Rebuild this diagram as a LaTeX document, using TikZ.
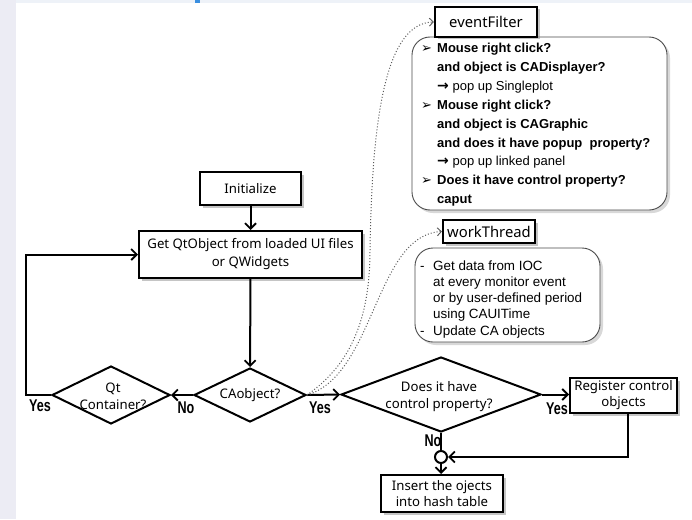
\documentclass[tikz,border=0pt]{standalone}
\usepackage{fontspec}
\setmainfont{Noto Sans}
\newfontfamily\panelfont{Liberation Sans}
\newfontfamily\labfont[FakeStretch=0.74]{Liberation Sans}
\newfontfamily\symfont{DejaVu Sans}
\usetikzlibrary{shapes.geometric,arrows.meta,shadows}

\definecolor{sidebar}{HTML}{ECECF4}
\definecolor{topbar}{HTML}{EEF2F8}
\definecolor{cursorblue}{HTML}{3A8FE0}

\newcommand\efbullet{\makebox[16pt][l]{\symfont\fontsize{13}{18.9}\selectfont ➢}}
\newcommand\efindent{\hspace*{16pt}}
\newcommand\efarrow{{\symfont\bfseries\fontsize{14}{18.9}\selectfont →}\ }
\newcommand\wtdash{\makebox[13pt][l]{-}}
\newcommand\wtindent{\hspace*{13pt}}

\tikzset{
  flowbox/.style={draw, line width=2pt, fill=white, inner sep=0pt,
    align=center, font=\fontsize{13.2}{17}\selectfont,
    drop shadow={shadow xshift=2.5pt, shadow yshift=-2.5pt, fill=black!45}},
  titlebox/.style={flowbox, line width=2.2pt, font=\fontsize{14.8}{17}\selectfont},
  decision/.style={diamond, draw, line width=2pt, fill=white, inner sep=0pt},
  dtext/.style={align=center, inner sep=0pt, font=\fontsize{13.2}{17}\selectfont},
  panel/.style={draw=black!70, line width=0.9pt, fill=white, rounded corners=18pt,
    inner sep=0pt, drop shadow={shadow xshift=3pt, shadow yshift=-3pt, fill=black!30}},
  flow/.style={line width=2pt, -{Straight Barb[length=5.5pt,width=11pt,line width=1.8pt]}},
  plain/.style={line width=2pt},
  hint/.style={dotted, line width=1pt, black!65,
    -{Straight Barb[length=4pt,width=8pt,line width=0.9pt]}},
  yesno/.style={font=\labfont\bfseries\fontsize{17}{17}\selectfont, inner sep=0pt},
}

\begin{document}
\begin{tikzpicture}[x=1pt, y=-1pt]
  % page frame
  \useasboundingbox (0,0) rectangle (692,519);
  \fill[white] (0,0) rectangle (692,519);
  \fill[sidebar] (0,0) rectangle (16,519);
  \fill[topbar] (16,0) rectangle (692,3);
  \fill[cursorblue] (195,0) rectangle (200,3);

  % main flow
  \node[flowbox, minimum width=101pt, minimum height=33pt] (init) at (250.5,188.5) {Initialize};
  \node[flowbox, minimum width=223pt, minimum height=47pt,
        font=\fontsize{13.2}{18}\selectfont] (get) at (250.5,254.5)
        {Get QtObject from loaded UI files\\or QWidgets};

  \node[decision, minimum width=112pt, minimum height=54pt] (ca) at (250,395) {};
  \node[dtext] (caText) at (ca) {CAobject?};

  \node[decision, minimum width=118pt, minimum height=58pt] (qt) at (111,395) {};
  \node[dtext] (qtText) at (113,396) {Qt\\Container?};

  \node[decision, minimum width=200pt, minimum height=75pt] (dq) at (441,394.5) {};
  \node[dtext] (dqText) at (439,396.5) {Does it have\\control property?};

  \node[flowbox, minimum width=107pt, minimum height=35pt,
        font=\fontsize{13.2}{16}\selectfont] (reg) at (623.5,395.5)
        {Register control\\objects};

  \node[circle, draw, line width=2pt, fill=white, minimum size=12pt,
        inner sep=0pt] (join) at (441,457) {};

  \node[flowbox, minimum width=122pt, minimum height=37pt,
        font=\fontsize{13.2}{16.5}\selectfont] (ins) at (442,493.5)
        {Insert the ojects\\into hash table};

  % eventFilter panel
  \node[panel, minimum width=255pt, minimum height=173pt] (efPanel) at (539.5,123.5) {};
  \node[titlebox, minimum width=102pt, minimum height=30pt] (efTitle) at (486,22) {eventFilter};
  \node[anchor=base west, inner sep=0pt] (efText) at (421,52.5)
    {\parbox[t]{250pt}{\panelfont\bfseries\fontsize{13}{18.9}\selectfont
      \efbullet Mouse right click?\\
      \efindent and object is CADisplayer?\\
      \efindent\efarrow{\mdseries pop up Singleplot}\\
      \efbullet Mouse right click?\\
      \efindent and object is CAGraphic\\
      \efindent and does it have popup\ \ property?\\
      \efindent\efarrow{\mdseries pop up linked panel}\\
      \efbullet Does it have control property?\\
      \efindent caput}};

  % workThread panel
  \node[panel, minimum width=185pt, minimum height=94pt] (wtPanel) at (507.5,295) {};
  \node[titlebox, minimum width=92pt, minimum height=23pt] (wtTitle) at (489,231.5) {workThread};
  \node[anchor=base west, inner sep=0pt] (wtText) at (420,270)
    {\parbox[t]{180pt}{\panelfont\fontsize{13.4}{16.3}\selectfont
      \wtdash Get data from IOC\\
      \wtindent at every monitor event\\
      \wtindent or by user-defined period\\
      \wtindent using CAUITime\\
      \wtdash Update CA objects}};

  % connectors
  \draw[flow] (init) -- (get);
  \draw[flow] (get) -- (ca);
  \draw[flow] (ca.west) -- (qt.east);
  \draw[flow] (qt.west) -- ++(-25,0) |- (get.west);
  \draw[flow] (ca.east) -- (dq.west);
  \draw[flow] (dq.east) -- (reg.west |- dq.east);
  \draw[flow] ([xshift=4.5pt]reg.south) |- (join.east);
  \draw[plain] (dq.south) -- (join.north);
  \draw[flow] (join.south) -- (join.south |- ins.north);

  % hand-offs to the event filter and the worker thread
  \draw[hint] (ca.east) .. controls (350,365) and (370,320) .. (370,250)
                        .. controls (372,120) and (385,23) .. (efTitle.west);
  \draw[hint] (ca.east) .. controls (375,375) and (375,235) .. (wtTitle.west);

  % branch labels
  \node[yesno] (yesLoop) at (40,406) {Yes};
  \node[yesno] (noQt) at (186,408) {No};
  \node[yesno] (yesCa) at (320,408) {Yes};
  \node[yesno] (yesReg) at (557,409) {Yes};
  \node[yesno] (noDq) at (433,441) {No};
\end{tikzpicture}
\end{document}
